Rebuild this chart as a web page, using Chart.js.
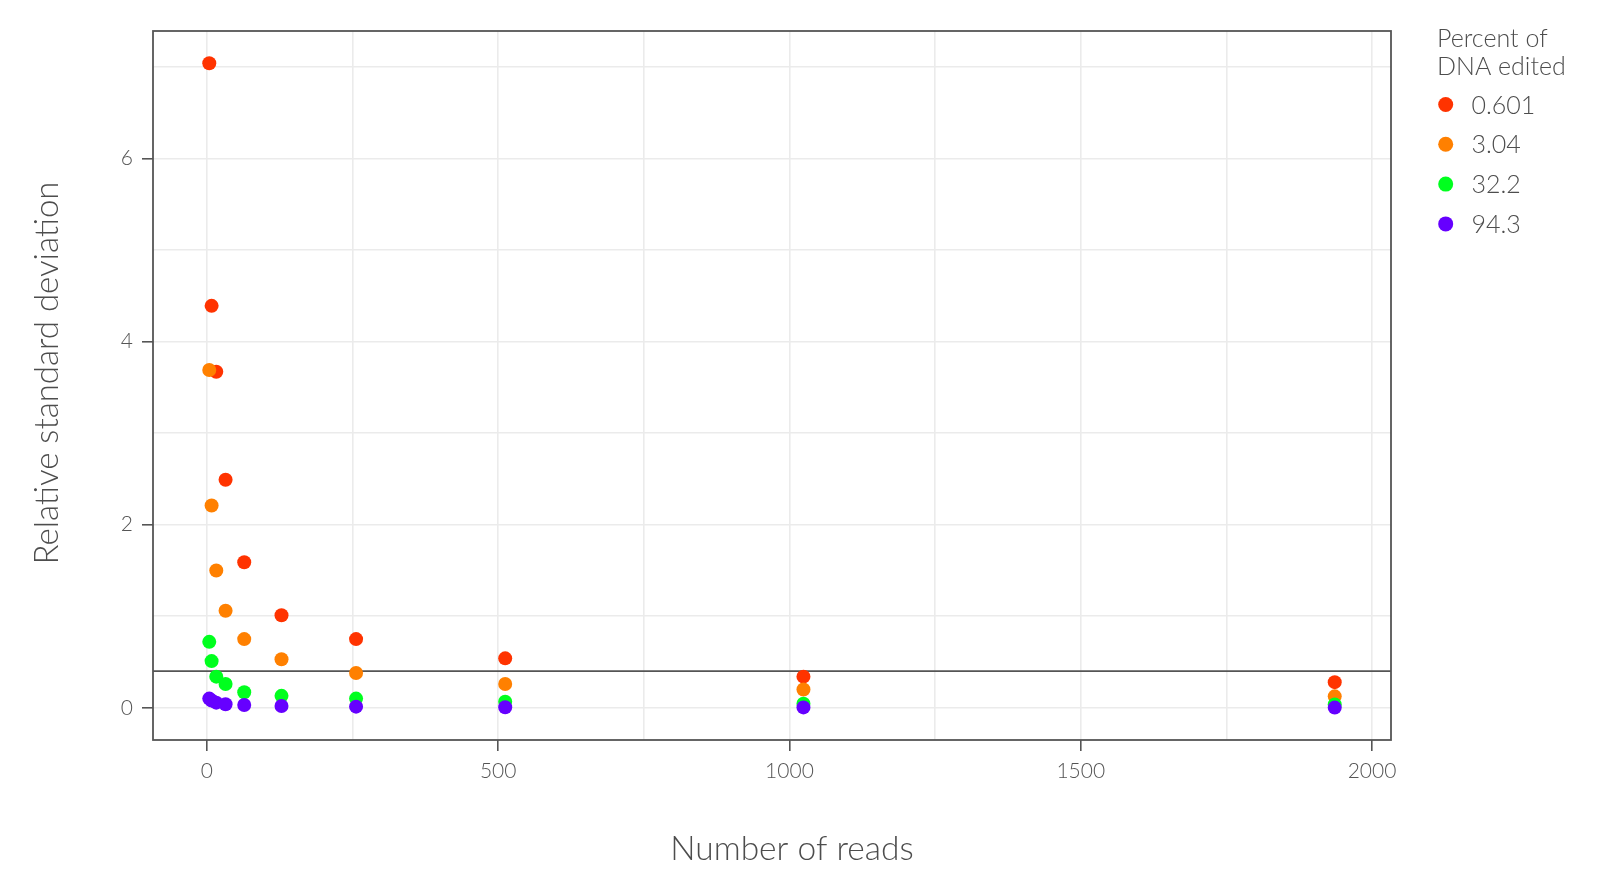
<!DOCTYPE html>
<html>
<head>
<meta charset="utf-8">
<script src="https://cdn.jsdelivr.net/npm/chart.js@4.4.1/dist/chart.umd.min.js"></script>
<style>
  html, body { margin: 0; padding: 0; background: #fff; }
  #wrap { position: relative; width: 1600px; height: 895px; }
</style>
</head>
<body>
<div id="wrap"><canvas id="chart" width="1600" height="895"></canvas></div>
<script>
// number of reads sampled (x)
const reads = [4, 8, 16, 32, 64, 128, 256, 512, 1024, 1936];

// relative standard deviation per editing level (y)
const rsd0601 = [7.04, 4.39, 3.67, 2.49, 1.59, 1.01, 0.75, 0.54, 0.34, 0.28];
const rsd304  = [3.69, 2.21, 1.50, 1.06, 0.75, 0.53, 0.38, 0.26, 0.20, 0.125];
const rsd322  = [0.72, 0.51, 0.34, 0.26, 0.17, 0.13, 0.10, 0.065, 0.045, 0.035];
const rsd943  = [0.10, 0.08, 0.056, 0.038, 0.03, 0.02, 0.012, 0.006, 0.004, 0.002];

const seriesNames = ['0.601', '3.04', '32.2', '94.3'];
const seriesValues = [rsd0601, rsd304, rsd322, rsd943];
const seriesColors = ['#ff3300', '#ff8000', '#00ff1e', '#6600ff'];

const thresholdRSD = 0.4;

const xMajorTicks = [0, 500, 1000, 1500, 2000];
const xMinorTicks = [250, 750, 1250, 1750];
const yMajorTicks = [0, 2, 4, 6];
const yMinorTicks = [1, 3, 5, 7];

const xLimits = [-92.6, 2032.6];
const yLimits = [-0.352, 7.392];

const xTitle = 'Number of reads';
const yTitle = 'Relative standard deviation';
const legendTitle = ['Percent of', 'DNA edited'];

const FONT = 'Lato, "Open Sans", sans-serif';
const TEXT = '#4d4d4d';

function gridTicks(major, minor) {
  return [...major, ...minor].sort((a, b) => a - b).map(v => ({ value: v }));
}

const datasets = seriesNames.map((name, i) => ({
  label: name,
  data: reads.map((r, j) => ({ x: r, y: seriesValues[i][j] })),
  backgroundColor: seriesColors[i],
  pointRadius: 7,
  pointHoverRadius: 7,
  pointBorderWidth: 0,
  order: seriesNames.length - i   // later series drawn on top
}));

datasets.push({
  type: 'line',
  label: 'threshold',
  data: [{ x: xLimits[0], y: thresholdRSD }, { x: xLimits[1], y: thresholdRSD }],
  borderColor: '#555555',
  borderWidth: 1.8,
  pointRadius: 0,
  order: 10
});

// panel frame, axis titles and legend
const overlay = {
  id: 'overlay',
  beforeDatasetsDraw(chart) {
    const { ctx, chartArea: a } = chart;
    ctx.save();
    ctx.strokeStyle = '#555555';
    ctx.lineWidth = 1.8;
    ctx.strokeRect(a.left, a.top, a.right - a.left, a.bottom - a.top);
    ctx.restore();
  },
  afterDraw(chart) {
    const { ctx } = chart;
    ctx.save();
    ctx.fillStyle = TEXT;

    ctx.font = '300 33.5px ' + FONT;
    ctx.textAlign = 'center';
    ctx.textBaseline = 'alphabetic';
    ctx.fillText(xTitle, 792, 860);

    ctx.save();
    ctx.font = '300 33px ' + FONT;
    ctx.translate(58, 373);
    ctx.rotate(-Math.PI / 2);
    ctx.fillText(yTitle, 0, 0);
    ctx.restore();

    ctx.textAlign = 'left';
    ctx.font = '300 25px ' + FONT;
    legendTitle.forEach((t, i) => ctx.fillText(t, 1437, 46.5 + i * 28.5));

    const items = chart.data.datasets.filter(d => d.type !== 'line');
    items.forEach((d, i) => {
      const cy = 104.5 + i * 39.8;
      ctx.fillStyle = d.backgroundColor;
      ctx.beginPath();
      ctx.arc(1445.7, cy, 7.5, 0, Math.PI * 2);
      ctx.fill();
      ctx.fillStyle = TEXT;
      ctx.fillText(d.label, 1471.5, cy + 9);
    });
    ctx.restore();
  }
};

new Chart(document.getElementById('chart'), {
  type: 'scatter',
  data: { datasets },
  plugins: [overlay],
  options: {
    responsive: false,
    animation: false,
    events: [],
    layout: { padding: { left: 0, top: 31, right: 209, bottom: 0 } },
    plugins: { legend: { display: false }, tooltip: { enabled: false } },
    scales: {
      x: {
        type: 'linear',
        min: xLimits[0],
        max: xLimits[1],
        afterBuildTicks: s => { s.ticks = gridTicks(xMajorTicks, xMinorTicks); },
        afterFit: s => { s.height = 155; },
        border: { display: false },
        grid: {
          color: '#ebebeb',
          lineWidth: 1.6,
          tickLength: 11,
          tickWidth: 1.6,
          tickColor: c => xMajorTicks.includes(c.tick.value) ? '#555555' : 'rgba(0,0,0,0)'
        },
        ticks: {
          autoSkip: false,
          maxRotation: 0,
          padding: 8,
          color: '#555555',
          font: { family: FONT, size: 21, weight: 300 },
          callback: v => xMajorTicks.includes(v) ? String(v) : ''
        }
      },
      y: {
        type: 'linear',
        min: yLimits[0],
        max: yLimits[1],
        afterBuildTicks: s => { s.ticks = gridTicks(yMajorTicks, yMinorTicks); },
        afterFit: s => { s.width = 153; },
        border: { display: false },
        grid: {
          color: '#ebebeb',
          lineWidth: 1.6,
          tickLength: 11,
          tickWidth: 1.6,
          tickColor: c => yMajorTicks.includes(c.tick.value) ? '#555555' : 'rgba(0,0,0,0)'
        },
        ticks: {
          autoSkip: false,
          padding: 9,
          color: '#555555',
          font: { family: FONT, size: 21, weight: 300 },
          callback: v => yMajorTicks.includes(v) ? String(v) : ''
        }
      }
    }
  }
});
</script>
</body>
</html>
